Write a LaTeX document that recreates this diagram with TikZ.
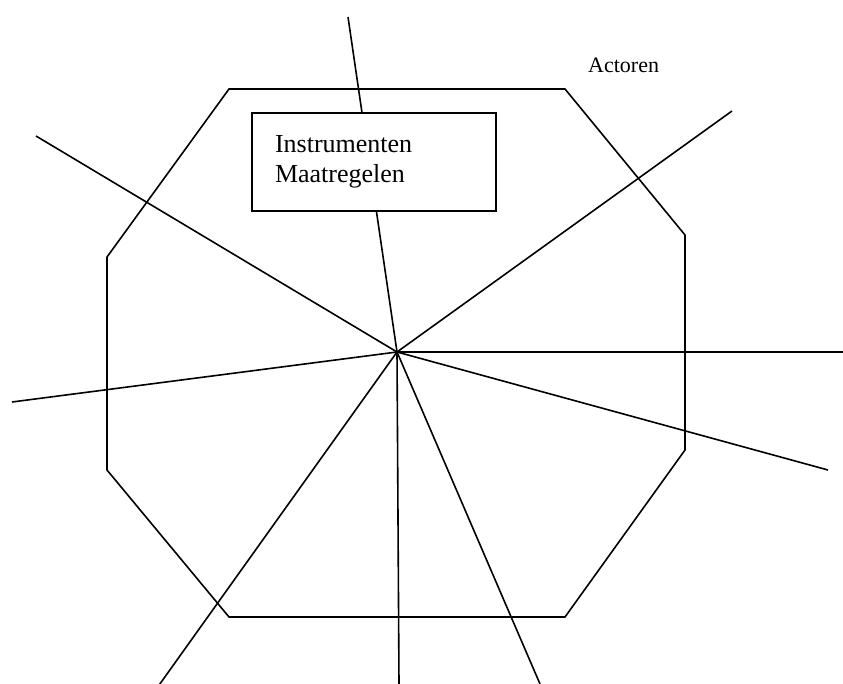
\documentclass[tikz,border=0pt]{standalone}
\usepackage{fontspec}
\setmainfont{Liberation Serif}
\usetikzlibrary{positioning}

\begin{document}
\begin{tikzpicture}[
    x=1pt, y=-1pt,
    edge/.style={line width=1.6pt, line join=miter},
    ray/.style={line width=1.6pt},
    infobox/.style={rectangle, draw, line width=1.6pt, fill=white, minimum width=244pt, minimum height=98pt, text width=198pt, inner xsep=23pt, align=left, font=\fontsize{26}{30}\selectfont},
    tag/.style={anchor=base west, inner sep=0pt, font=\fontsize{22}{26}\selectfont}
]
\useasboundingbox (0,0) rectangle (843,684);

% middelpunt
\coordinate (c) at (397,352);

% achthoek
\coordinate (o1) at (229,89);
\coordinate (o2) at (565,89);
\coordinate (o3) at (685,235);
\coordinate (o4) at (685,450);
\coordinate (o5) at (565,617);
\coordinate (o6) at (229,617);
\coordinate (o7) at (107,470);
\coordinate (o8) at (107,257);
\draw[edge] (o1) -- (o2) -- (o3) -- (o4) -- (o5) -- (o6) -- (o7) -- (o8) -- cycle;

% stralen
\coordinate (r1) at (348,17);
\coordinate (r2) at (732,111);
\coordinate (r3) at (843,352);
\coordinate (r4) at (828,470);
\coordinate (r5) at (540,684);
\coordinate (r6) at (399,684);
\coordinate (r7) at (157,688);
\coordinate (r8) at (12,402);
\coordinate (r9) at (36,136);
\foreach \r in {r1,r2,r3,r4,r5,r6,r7,r8,r9}
    \draw[ray] (c) -- (\r);

% kader
\node[infobox] (instr) at (374,162) {Instrumenten\\Maatregelen};

% label
\node[tag] (actoren) at (588,73) {Actoren};
\end{tikzpicture}
\end{document}
